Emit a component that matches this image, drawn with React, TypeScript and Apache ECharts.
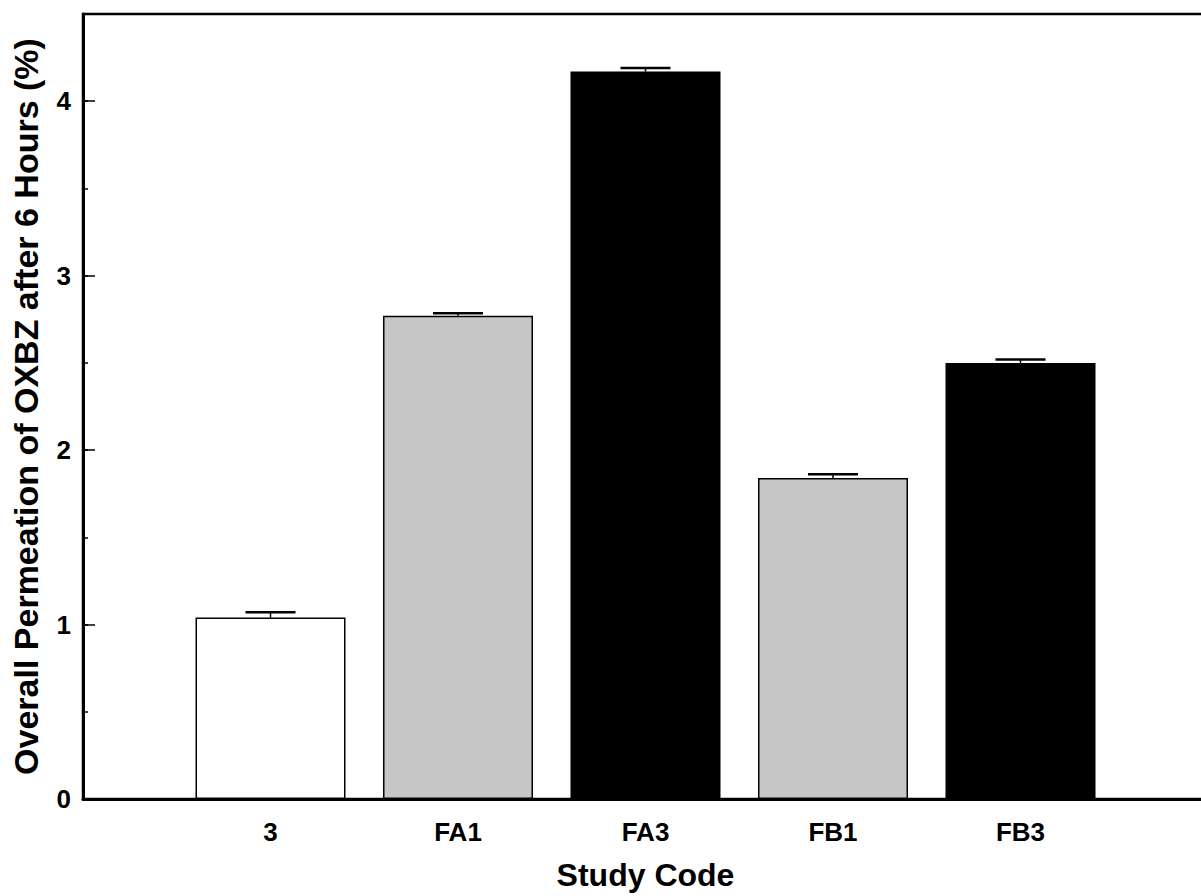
import React, { useEffect, useRef } from "react";
import * as echarts from "echarts";

const categories = ["3", "FA1", "FA3", "FB1", "FB3"];
const positions = [1, 2, 3, 4, 5];
const means = [1.04, 2.77, 4.17, 1.84, 2.5];
const upperErrors = [0.03, 0.015, 0.02, 0.022, 0.02];
const barColors = ["#ffffff", "#c6c6c6", "#000000", "#c6c6c6", "#000000"];
const yTickLabels = [0, 1, 2, 3, 4];

const FONT = "'Liberation Sans', Arial, Helvetica, sans-serif";

export default function App() {
  const ref = useRef<HTMLDivElement>(null);

  useEffect(() => {
    if (!ref.current) return;
    const chart = echarts.init(ref.current, null, { renderer: "svg" });

    const barData = positions.map((p, i) => ({
      value: [p, means[i]],
      itemStyle: {
        color: barColors[i],
        borderColor: "#000",
        borderWidth: barColors[i] === "#000000" ? 0 : 1.5,
      },
    }));

    const errData = positions.map((p, i) => [p, means[i], means[i] + upperErrors[i]]);

    chart.setOption({
      animation: false,
      backgroundColor: "#fff",
      grid: {
        left: 83,
        width: 1125,
        top: 14,
        bottom: 97,
        outerBoundsMode: "none",
        containLabel: false,
        show: true,
        borderColor: "#000",
        borderWidth: 2.5,
        backgroundColor: "transparent",
      },
      xAxis: {
        type: "value",
        min: 0,
        max: 6,
        interval: 1,
        axisLine: { show: true, onZero: false, lineStyle: { color: "#000", width: 3 } },
        axisTick: { show: false },
        splitLine: { show: false },
        axisLabel: {
          margin: 20,
          color: "#000",
          fontFamily: FONT,
          fontWeight: "bold",
          fontSize: 26,
          formatter: (v: number) => categories[positions.indexOf(v)] ?? "",
        },
        name: "Study Code",
        nameLocation: "middle",
        nameGap: 60,
        nameTextStyle: {
          color: "#000",
          fontFamily: FONT,
          fontWeight: "bold",
          fontSize: 32,
        },
      },
      yAxis: [
        {
          type: "value",
          min: 0,
          max: 4.5,
          interval: 1,
          axisLine: { show: true, lineStyle: { color: "#000", width: 3 } },
          axisTick: { show: true, inside: true, length: 12, lineStyle: { color: "#000", width: 1.5 } },
          splitLine: { show: false },
          axisLabel: {
            margin: 12,
            color: "#000",
            fontFamily: FONT,
            fontWeight: "bold",
            fontSize: 26,
            formatter: (v: number) => (yTickLabels.indexOf(v) >= 0 ? String(v) : ""),
          },
          name: "Overall Permeation of OXBZ after 6 Hours (%)",
          nameLocation: "middle",
          nameGap: 40,
          nameTextStyle: {
            color: "#000",
            fontFamily: FONT,
            fontWeight: "bold",
            fontSize: 34,
          },
        },
        {
          type: "value",
          min: 0,
          max: 4.5,
          interval: 0.5,
          position: "left",
          axisLine: { show: false },
          axisTick: { show: true, inside: true, length: 5, lineStyle: { color: "#000", width: 1.5 } },
          axisLabel: { show: false },
          splitLine: { show: false },
        },
      ],
      series: [
        {
          type: "bar",
          data: barData,
          barWidth: 150,
          yAxisIndex: 0,
          z: 2,
        },
        {
          type: "custom",
          yAxisIndex: 0,
          data: errData,
          z: 3,
          renderItem: (params: any, api: any) => {
            const x = api.value(0);
            const lo = api.coord([x, api.value(1)]);
            const hi = api.coord([x, api.value(2)]);
            const half = 25;
            const style = { stroke: "#000", lineWidth: 2.5 };
            return {
              type: "group",
              children: [
                { type: "line", shape: { x1: lo[0], y1: lo[1], x2: hi[0], y2: hi[1] }, style: { stroke: "#000", lineWidth: 1.5 } },
                { type: "line", shape: { x1: hi[0] - half, y1: hi[1], x2: hi[0] + half, y2: hi[1] }, style },
              ],
            };
          },
        },
      ],
    });

    return () => chart.dispose();
  }, []);

  return (
    <div
      ref={ref}
      style={{ position: "fixed", left: 0, top: 0, width: 1201, height: 896, background: "#fff" }}
    />
  );
}
